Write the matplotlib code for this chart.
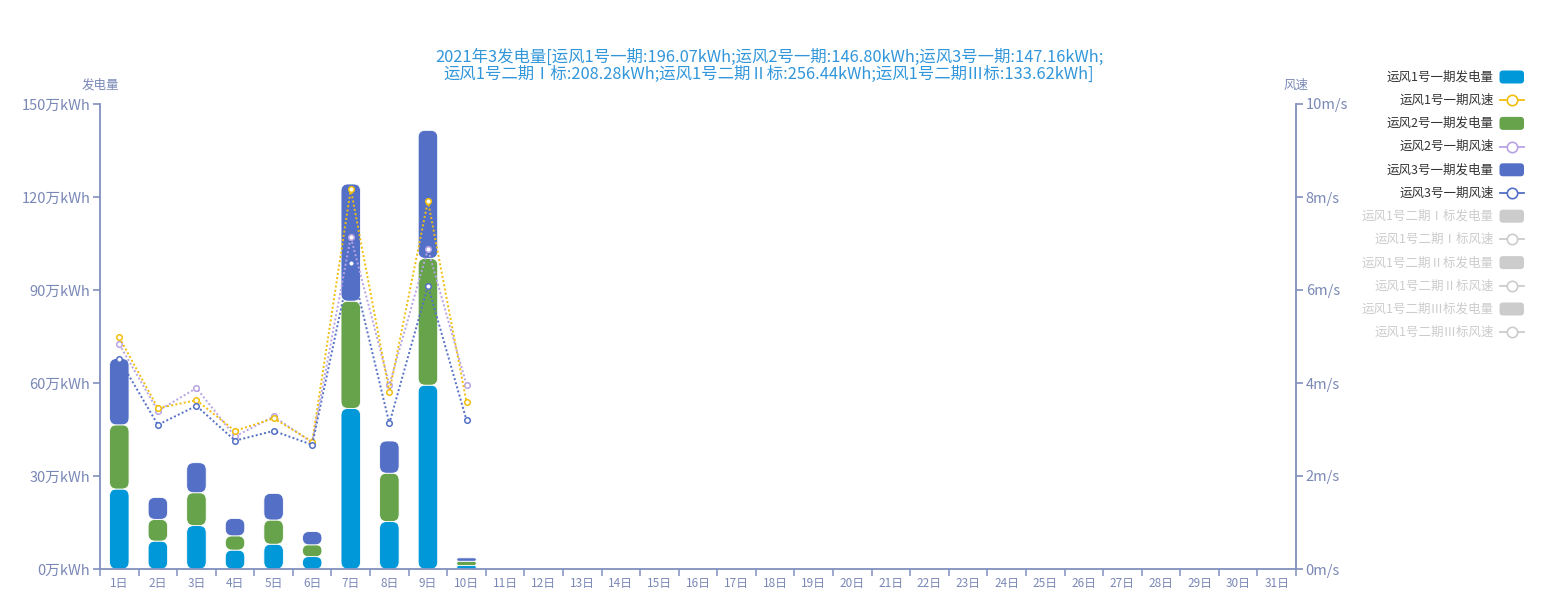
import numpy as np
import matplotlib
matplotlib.use("Agg")
import matplotlib.pyplot as plt
from matplotlib.patches import FancyBboxPatch, BoxStyle
from matplotlib.lines import Line2D

plt.rcParams["font.family"] = ["Noto Sans CJK SC", "DejaVu Sans"]

# ── data ──────────────────────────────────────────────────────────────────────
days = [f"{i}日" for i in range(1, 32)]
# 发电量 (万kWh), only first 10 days have data
gen_1 = [25.8, 9.0, 14.0, 6.1, 8.0, 4.0, 51.8, 15.3, 59.3, 1.1]
gen_2 = [20.7, 7.0, 10.6, 4.6, 7.8, 3.8, 34.6, 15.6, 40.9, 1.4]
gen_3 = [21.4, 7.1, 9.7, 5.6, 8.6, 4.3, 37.8, 10.4, 41.3, 1.1]
# 风速 (m/s)
ws_1 = [4.98, 3.46, 3.63, 2.97, 3.24, 2.74, 8.17, 3.81, 7.92, 3.59]
ws_2 = [4.83, 3.40, 3.89, 2.85, 3.28, 2.72, 7.14, 3.96, 6.88, 3.96]
ws_3 = [4.51, 3.10, 3.51, 2.76, 2.97, 2.67, 6.59, 3.13, 6.09, 3.20]

legend_names = ["运风1号一期发电量", "运风1号一期风速", "运风2号一期发电量", "运风2号一期风速",
                "运风3号一期发电量", "运风3号一期风速", "运风1号二期Ⅰ标发电量", "运风1号二期Ⅰ标风速",
                "运风1号二期Ⅱ标发电量", "运风1号二期Ⅱ标风速", "运风1号二期Ⅲ标发电量", "运风1号二期Ⅲ标风速"]

title = ("2021年3发电量[运风1号一期:196.07kWh;运风2号一期:146.80kWh;运风3号一期:147.16kWh;\n"
         "运风1号二期Ⅰ标:208.28kWh;运风1号二期Ⅱ标:256.44kWh;运风1号二期Ⅲ标:133.62kWh]")

C_BLUE, C_GREEN, C_PURP = "#0098d9", "#67a34a", "#5470c6"
C_YEL, C_LAV = "#f0be0c", "#b7a3e3"
C_INACT = "#cccccc"
AX_COL, LAB_COL = "#8190bd", "#7a88b6"

# ── figure ────────────────────────────────────────────────────────────────────
W, H = 1551, 615
fig = plt.figure(figsize=(W / 100, H / 100), dpi=100)
L, R, T, B = 100, 1296, 104, 569
ax = fig.add_axes([L / W, (H - B) / H, (R - L) / W, (B - T) / H])
ax.set_xlim(-0.5, 30.5)
ax.set_ylim(0, 150)

px_x = (R - L) / 31
px_y = (B - T) / 150
asp = px_x / px_y
bw = 19.5 / px_x

def rbar(x, bottom, h, color):
    r = min(7 / px_x, bw / 2, h / asp / 2)
    p = FancyBboxPatch((x - bw / 2, bottom), bw, h,
                       boxstyle=BoxStyle.Round(pad=0, rounding_size=r),
                       mutation_aspect=asp, fc=color, ec="white", lw=0.6, zorder=2)
    ax.add_patch(p)

for i in range(len(gen_1)):
    b = 0
    for vals, col in [(gen_1, C_BLUE), (gen_2, C_GREEN), (gen_3, C_PURP)]:
        rbar(i, b, vals[i], col)
        b += vals[i]

for s in ["top", "right"]:
    ax.spines[s].set_visible(False)
ax.spines["left"].set_color(AX_COL)
ax.spines["bottom"].set_color(AX_COL)
ax.spines["left"].set_linewidth(1.3)
ax.spines["bottom"].set_linewidth(1.3)

ax.set_yticks(range(0, 151, 30))
ax.set_yticklabels([f"{v}万kWh" for v in range(0, 151, 30)], fontsize=10.5, color=LAB_COL)
ax.tick_params(axis="y", colors=AX_COL, labelcolor=LAB_COL, length=5, width=1.2, pad=2)
ax.set_xticks(range(31))
ax.set_xticklabels(days, fontsize=8.5, color=LAB_COL)
ax.tick_params(axis="x", length=0, pad=6)
ax.set_xticks(np.arange(-0.5, 31, 1), minor=True)
ax.tick_params(axis="x", which="minor", length=5, width=1.1, colors=AX_COL)

ax2 = ax.twinx()
ax2.set_ylim(0, 10)
for s in ["top", "left", "bottom"]:
    ax2.spines[s].set_visible(False)
ax2.spines["right"].set_color(AX_COL)
ax2.spines["right"].set_linewidth(1.3)
ax2.set_yticks(range(0, 11, 2))
ax2.set_yticklabels([f"{v}m/s" for v in range(0, 11, 2)], fontsize=10.5, color=LAB_COL)
ax2.tick_params(axis="y", colors=AX_COL, labelcolor=LAB_COL, length=5, width=1.2, pad=2)

xs = np.arange(len(ws_1))
for vals, col in [(ws_2, C_LAV), (ws_1, C_YEL), (ws_3, C_PURP)]:
    ax2.plot(xs, vals, color=col, lw=1.4, ls=(0, (1, 1.2)), marker="o", ms=4,
             mfc="white", mec=col, mew=1.1, zorder=3)

fig.text(L / W, 1 - 85 / H, "发电量", ha="center", va="center", fontsize=9, color=LAB_COL)
fig.text(R / W, 1 - 85 / H, "风速", ha="center", va="center", fontsize=9, color=LAB_COL)
fig.text(769 / W, 1 - 66 / H, title, ha="center", va="center", fontsize=11.8,
         color="#3196da", linespacing=1.0)

# ── legend in pixel coords ───────────────────────────────────────────────────
lg = fig.add_axes([0, 0, 1, 1], facecolor="none")
lg.set_xlim(0, W)
lg.set_ylim(H, 0)
lg.axis("off")
leg_cols = [C_BLUE, C_YEL, C_GREEN, C_LAV, C_PURP, C_PURP] + [C_INACT] * 6
for k, (name, col) in enumerate(zip(legend_names, leg_cols)):
    y = 77 + k * 23.2
    active = k < 6
    lg.text(1494, y, name, ha="right", va="center", fontsize=9,
            color="#333333" if active else C_INACT)
    if k % 2 == 0:
        lg.add_patch(FancyBboxPatch((1499.5, y - 6.5), 24.5, 13,
                                    boxstyle=BoxStyle.Round(pad=0, rounding_size=3.5),
                                    fc=col, ec="none"))
    else:
        lg.add_line(Line2D([1499.5, 1524], [y, y], color=col, lw=1.3))
        lg.plot([1511.7], [y], marker="o", ms=7.5, mfc="white", mec=col, mew=1.2)

fig.savefig("out.png", dpi=100)
